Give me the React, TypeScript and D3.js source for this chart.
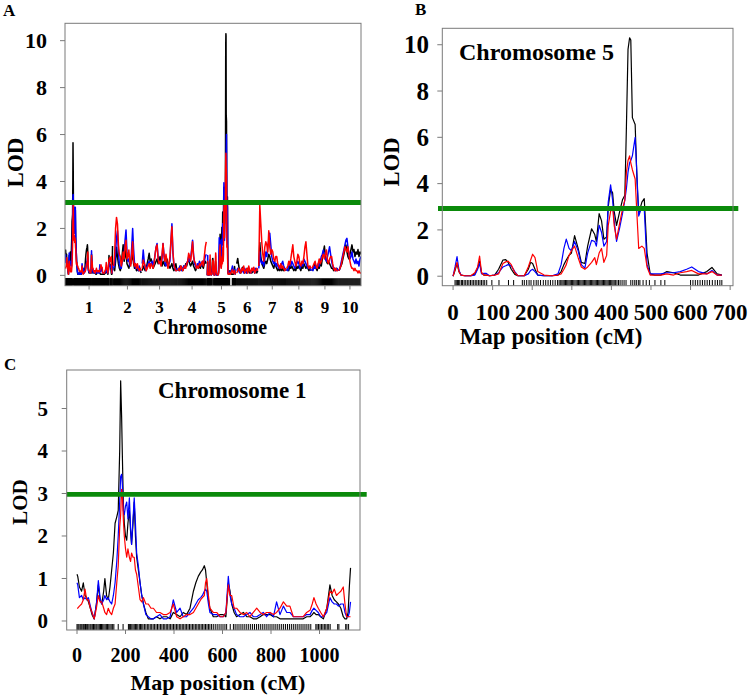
import React from "react";
import * as d3 from "d3";

// ---------------- DATA ----------------
const chromNames = ["1", "2", "3", "4", "5", "6", "7", "8", "9", "10"];
const chromLengths = [1130, 660, 830, 680, 680, 505, 645, 580, 620, 530];
const chromGap = 25;

// Chromosome 5 scan (panel B)
const chr5Pos = [0, 5, 10, 15, 20, 30, 45, 55, 62, 67, 72, 78, 84, 92, 105, 115, 126, 133, 139, 147, 156, 164, 180, 190, 196, 201, 207, 214, 230, 250, 265, 273, 280, 286, 293, 299, 307, 316, 324, 333, 340, 350, 358, 362, 369, 375, 381, 388, 392, 398, 403, 407, 413, 421, 428, 434, 438, 442, 446, 449, 453, 460, 465, 469, 477, 483, 490, 498, 510, 525, 540, 557, 574, 590, 603, 620, 641, 654, 667, 679];
const chr5Black = [0, 0.25, 0.55, 0.2, 0.05, 0.02, 0.02, 0.1, 0.35, 0.65, 0.15, 0.05, 0.05, 0.02, 0.05, 0.3, 0.7, 0.72, 0.6, 0.3, 0.08, 0.02, 0.02, 0.3, 0.6, 0.55, 0.3, 0.05, 0.02, 0.02, 0.05, 0.2, 0.5, 0.7, 0.9, 1.0, 1.75, 1.2, 0.6, 0.55, 1.3, 2.05, 1.8, 1.5, 2.7, 2.4, 1.6, 1.7, 3.0, 3.75, 3.6, 2.8, 2.2, 2.8, 3.3, 3.5, 6.5, 9.8, 10.3, 10.2, 6.85, 6.55, 4.0, 2.7, 3.2, 3.35, 1.0, 0.1, 0.05, 0.05, 0.2, 0.15, 0.05, 0.05, 0.05, 0.05, 0.2, 0.38, 0.1, 0.05];
const chr5Blue = [0, 0.4, 0.85, 0.25, 0.05, 0.02, 0.02, 0.05, 0.3, 0.55, 0.1, 0.12, 0.12, 0.02, 0.05, 0.15, 0.4, 0.45, 0.5, 0.45, 0.2, 0.02, 0.02, 0.1, 0.25, 0.3, 0.2, 0.05, 0.02, 0.02, 0.1, 0.5, 1.2, 1.6, 1.2, 1.1, 1.5, 1.1, 0.5, 0.35, 1.0, 1.55, 1.5, 1.3, 2.2, 1.9, 1.3, 1.5, 3.2, 3.95, 3.3, 2.4, 1.5, 2.1, 2.7, 3.3, 3.8, 4.5, 4.9, 5.0, 5.2, 6.0, 4.2, 2.6, 3.0, 2.9, 0.5, 0.1, 0.1, 0.1, 0.15, 0.15, 0.2, 0.3, 0.4, 0.2, 0.1, 0.25, 0.05, 0.05];
const chr5Red = [0, 0.3, 0.6, 0.2, 0.05, 0.02, 0.02, 0.15, 0.4, 0.87, 0.15, 0.05, 0.05, 0.02, 0.05, 0.1, 0.55, 0.62, 0.65, 0.5, 0.15, 0.02, 0.02, 0.4, 0.7, 0.95, 0.8, 0.2, 0.05, 0.02, 0.05, 0.1, 0.3, 0.5, 0.9, 1.1, 1.3, 0.8, 0.4, 0.3, 0.4, 0.6, 0.8, 0.5, 1.0, 1.2, 0.6, 0.9, 2.2, 2.8, 3.0, 2.2, 1.6, 2.3, 2.9, 3.3, 4.5, 5.0, 5.2, 4.9, 4.6, 4.2, 2.5, 1.2, 1.3, 1.2, 0.4, 0.05, 0.05, 0.05, 0.1, 0.05, 0.15, 0.2, 0.25, 0.1, 0.1, 0.2, 0.05, 0.05];
const chr5Markers = [5, 8, 11, 14, 17, 21, 24, 28, 32, 36, 40, 44, 48, 52, 56, 60, 64, 68, 72, 76, 80, 85, 98, 116, 140, 153, 175, 180, 186, 192, 197, 204, 210, 215, 221, 228, 234, 240, 246, 252, 258, 264, 268, 272, 275, 278, 281, 284, 287, 290, 293, 296, 299, 302, 305, 308, 311, 314, 317, 320, 323, 326, 329, 332, 335, 338, 341, 344, 347, 350, 353, 356, 359, 362, 365, 368, 371, 374, 377, 380, 383, 386, 389, 392, 395, 398, 401, 404, 407, 410, 414, 418, 422, 427, 432, 437, 449, 454, 459, 463, 468, 472, 480, 488, 496, 510, 525, 535, 600, 606, 612, 618, 624, 630, 636, 642, 648, 655, 662, 668, 674, 679];

// Chromosome 1 scan (panel C)
const chr1Pos = [0, 3, 10, 19, 26, 33, 40, 47, 55, 62, 71, 80, 88, 95, 102, 110, 115, 122, 129, 136, 143, 150, 157, 164, 170, 176, 180, 184, 187, 191, 195, 200, 205, 210, 216, 221, 225, 231, 236, 241, 246, 253, 260, 267, 274, 284, 294, 305, 315, 328, 342, 356, 370, 384, 397, 411, 425, 438, 452, 466, 480, 490, 500, 510, 517, 525, 530, 535, 542, 548, 562, 576, 590, 603, 614, 624, 631, 638, 648, 658, 672, 686, 700, 713, 727, 741, 755, 768, 782, 796, 810, 823, 837, 851, 865, 878, 892, 906, 920, 933, 947, 961, 970, 977, 986, 995, 1005, 1016, 1030, 1043, 1052, 1061, 1070, 1078, 1088, 1098, 1105, 1112, 1118, 1123, 1128];
const chr1Black = [1.1, 1.05, 0.8, 0.7, 0.9, 0.6, 0.55, 0.45, 0.3, 0.15, 0.05, 0.4, 0.85, 0.5, 0.4, 0.7, 1.0, 0.6, 0.5, 0.8, 1.2, 1.6, 2.3, 2.45, 2.6, 4.0, 5.65, 4.8, 3.9, 2.8, 2.3, 2.0, 1.9, 2.3, 2.6, 2.1, 1.8, 2.3, 2.8, 2.0, 1.5, 1.2, 0.9, 0.6, 0.4, 0.2, 0.05, 0.05, 0.05, 0.1, 0.05, 0.1, 0.1, 0.05, 0.2, 0.15, 0.1, 0.2, 0.15, 0.3, 0.7, 0.9, 1.05, 1.15, 1.2, 1.3, 1.2, 0.9, 0.5, 0.3, 0.1, 0.1, 0.15, 0.15, 0.1, 0.9, 0.7, 0.4, 0.2, 0.1, 0.15, 0.2, 0.1, 0.1, 0.05, 0.05, 0.1, 0.15, 0.15, 0.15, 0.1, 0.1, 0.05, 0.05, 0.05, 0.05, 0.05, 0.05, 0.05, 0.05, 0.1, 0.1, 0.15, 0.2, 0.15, 0.15, 0.1, 0.05, 0.3, 0.85, 0.6, 0.5, 0.45, 0.4, 0.3, 0.1, 0.05, 0.05, 0.2, 0.8, 1.25];
const chr1Blue = [0.9, 0.85, 0.55, 0.6, 0.5, 0.55, 0.5, 0.55, 0.35, 0.2, 0.05, 0.4, 0.95, 0.55, 0.4, 0.5, 0.6, 0.5, 0.55, 0.45, 0.4, 0.6, 0.9, 1.4, 2.0, 2.8, 3.4, 3.45, 3.2, 2.6, 2.5, 2.7, 2.8, 2.4, 2.9, 2.2, 1.8, 2.4, 2.9, 2.3, 1.6, 1.3, 0.9, 0.6, 0.4, 0.15, 0.1, 0.05, 0.05, 0.1, 0.15, 0.05, 0.05, 0.1, 0.5, 0.2, 0.3, 0.1, 0.1, 0.2, 0.3, 0.4, 0.5, 0.55, 0.6, 0.7, 0.75, 0.7, 0.4, 0.2, 0.15, 0.15, 0.1, 0.1, 0.2, 1.05, 0.6, 0.4, 0.3, 0.15, 0.1, 0.1, 0.15, 0.2, 0.1, 0.1, 0.15, 0.2, 0.1, 0.2, 0.1, 0.45, 0.15, 0.35, 0.2, 0.2, 0.1, 0.1, 0.1, 0.1, 0.15, 0.15, 0.25, 0.3, 0.25, 0.2, 0.1, 0.1, 0.2, 0.55, 0.45, 0.4, 0.4, 0.35, 0.4, 0.4, 0.2, 0.1, 0.1, 0.2, 0.45];
const chr1Red = [0.3, 0.3, 0.35, 0.4, 0.5, 0.75, 0.5, 0.5, 0.3, 0.2, 0.05, 0.3, 0.6, 0.45, 0.45, 0.3, 0.2, 0.15, 0.3, 0.2, 0.15, 0.3, 0.4, 0.9, 1.3, 2.2, 2.5, 3.1, 3.0, 2.4, 2.0, 1.7, 1.5, 1.7, 1.5, 1.4, 1.6, 1.5, 1.5, 1.2, 1.1, 0.8, 0.5, 0.45, 0.55, 0.4, 0.4, 0.3, 0.3, 0.2, 0.2, 0.15, 0.15, 0.2, 0.4, 0.1, 0.05, 0.1, 0.15, 0.15, 0.2, 0.3, 0.4, 0.5, 0.55, 0.6, 0.9, 1.0, 0.6, 0.3, 0.2, 0.2, 0.1, 0.1, 0.2, 0.85, 0.6, 0.6, 0.3, 0.3, 0.2, 0.15, 0.2, 0.1, 0.2, 0.3, 0.2, 0.15, 0.2, 0.2, 0.15, 0.2, 0.3, 0.45, 0.35, 0.35, 0.1, 0.1, 0.1, 0.1, 0.2, 0.25, 0.4, 0.55, 0.4, 0.3, 0.2, 0.1, 0.3, 0.7, 0.65, 0.75, 0.6, 0.65, 0.7, 0.8, 0.4, 0.1, 0.1, 0.1, 0.1];
const chr1Markers = [0, 4, 8, 13, 17, 21, 26, 30, 35, 40, 44, 49, 54, 58, 63, 68, 73, 78, 82, 87, 92, 97, 101, 106, 111, 116, 121, 126, 131, 136, 141, 147, 152, 170, 190, 212, 216, 221, 226, 231, 236, 241, 246, 251, 257, 262, 267, 272, 278, 284, 290, 296, 302, 308, 314, 320, 326, 332, 338, 344, 350, 356, 362, 368, 374, 380, 386, 392, 398, 404, 410, 416, 422, 428, 434, 440, 446, 452, 458, 464, 470, 476, 482, 488, 494, 500, 506, 512, 518, 524, 530, 536, 542, 548, 555, 562, 570, 578, 586, 594, 602, 610, 617, 632, 645, 652, 660, 668, 676, 684, 692, 700, 708, 716, 724, 732, 740, 748, 756, 764, 772, 780, 788, 796, 804, 812, 820, 828, 836, 844, 852, 860, 868, 876, 884, 892, 900, 908, 916, 924, 932, 940, 948, 956, 964, 985, 990, 996, 1002, 1008, 1014, 1020, 1026, 1032, 1038, 1044, 1075, 1080, 1108, 1113, 1120];

// Genome-wide scan on the other chromosomes (panel A), evenly spaced scan grid
const scanChroms = [2, 3, 4, 6, 7, 8, 9, 10];
const scanBlack = [
  [0.3, 0.2, 0.6, 1.2, 0.8, 0.5, 0.3, 0.2, 0.4, 0.9, 1.3, 0.6, 0.8, 1.1, 0.5, 0.4, 0.3, 0.5, 0.5, 0.7, 0.9, 0.5, 0.3, 0.4, 0.2, 0.3, 0.2, 0.3, 0.2, 0.1],
  [0.2, 0.4, 0.3, 0.2, 0.3, 0.5, 0.7, 0.94, 0.6, 0.7, 0.5, 0.3, 0.4, 0.5, 0.6, 0.7, 0.5, 0.6, 0.8, 0.5, 0.4, 0.6, 0.5, 0.4, 0.5, 0.7, 0.5, 0.4, 0.3, 0.4, 0.5, 0.3, 0.2, 0.3, 0.5, 0.2],
  [0.2, 0.3, 0.2, 0.4, 0.3, 0.2, 0.4, 0.3, 0.5, 0.4, 0.6, 0.7, 0.5, 0.4, 0.5, 0.6, 0.4, 0.3, 0.2, 0.3, 0.4, 0.3, 0.4, 0.3, 0.5, 0.4, 0.3, 0.5, 0.6, 0.5],
  [0.5, 0.72, 0.4, 0.2, 0.1, 0.2, 0.35, 0.15, 0.1, 0.2, 0.1, 0.3, 0.15, 0.1, 0.2, 0.1, 0.15, 0.3, 0.1, 0.2, 0.1, 0.2],
  [0.4, 1.4, 0.8, 0.5, 0.4, 0.3, 0.5, 0.6, 0.5, 0.7, 0.9, 0.8, 0.6, 0.5, 0.4, 0.3, 0.5, 0.4, 0.3, 0.2, 0.3, 0.2, 0.3, 0.2, 0.3, 0.2, 0.3, 0.2],
  [0.2, 0.3, 0.2, 0.4, 0.3, 0.4, 0.3, 0.2, 0.3, 0.2, 0.4, 0.3, 0.4, 0.3, 0.2, 0.4, 0.3, 0.5, 0.4, 0.3, 0.4, 0.3, 0.2, 0.3, 0.2],
  [0.2, 0.3, 0.3, 0.5, 0.3, 0.2, 0.4, 0.3, 0.5, 0.4, 0.7, 1.0, 1.25, 0.8, 0.6, 0.5, 0.6, 0.5, 0.4, 0.3, 0.3, 0.2, 0.3, 0.2, 0.3, 0.2],
  [0.2, 0.3, 0.4, 0.5, 0.7, 0.9, 1.1, 1.3, 1.0, 0.8, 0.7, 0.9, 1.1, 1.3, 1.0, 1.1, 0.8, 1.0, 0.9, 1.1, 0.8, 1.0, 0.9],
];
const scanBlue = [
  [0.3, 0.5, 1.0, 1.6, 1.9, 1.0, 0.5, 0.3, 0.3, 0.6, 0.8, 0.9, 1.5, 1.93, 1.0, 0.6, 0.7, 0.4, 0.5, 1.2, 2.0, 1.1, 0.5, 0.3, 0.4, 0.3, 0.2, 0.4, 0.2, 0.2],
  [0.5, 1.08, 0.6, 0.3, 0.2, 0.4, 0.5, 0.6, 0.4, 0.5, 0.6, 0.4, 0.6, 0.9, 1.2, 1.36, 0.8, 0.5, 0.6, 0.5, 0.7, 1.36, 0.9, 0.5, 0.4, 0.5, 0.4, 0.5, 0.6, 1.4, 2.2, 1.0, 0.4, 0.3, 0.2, 0.3],
  [0.3, 0.2, 0.4, 0.3, 0.2, 0.3, 0.4, 0.3, 0.4, 0.5, 0.6, 0.8, 0.6, 0.7, 1.1, 1.5, 0.9, 0.5, 0.4, 0.3, 0.5, 0.4, 0.6, 0.5, 0.4, 0.6, 0.5, 0.6, 0.8, 0.9],
  [0.2, 0.3, 0.2, 0.1, 0.2, 0.3, 0.2, 0.1, 0.3, 0.2, 0.1, 0.2, 0.3, 0.2, 0.1, 0.2, 0.3, 0.2, 0.1, 0.3, 0.2, 0.3],
  [0.3, 1.0, 0.6, 0.5, 0.6, 0.4, 0.7, 1.0, 0.8, 1.2, 1.5, 1.8, 1.3, 0.8, 0.6, 0.5, 0.6, 0.4, 0.5, 0.4, 0.3, 0.4, 0.3, 0.5, 0.6, 0.4, 0.3, 0.2],
  [0.3, 0.2, 0.4, 0.5, 0.4, 0.6, 0.5, 0.4, 0.3, 0.4, 0.5, 0.6, 0.5, 0.3, 0.4, 0.5, 0.4, 0.7, 0.6, 0.5, 0.4, 0.3, 0.4, 0.3, 0.2],
  [0.3, 0.2, 0.4, 0.3, 0.4, 0.3, 0.5, 0.4, 0.6, 0.8, 0.9, 1.08, 0.8, 0.7, 0.6, 0.8, 1.0, 1.22, 0.9, 0.6, 0.4, 0.3, 0.3, 0.2, 0.3, 0.2],
  [0.2, 0.3, 0.5, 0.7, 0.9, 1.1, 1.3, 1.5, 1.58, 1.2, 0.9, 0.7, 0.8, 1.0, 0.7, 0.6, 0.5, 0.7, 0.5, 0.6, 0.4, 0.7, 0.8],
];
const scanRed = [
  [0.4, 0.9, 2.0, 2.47, 2.2, 1.3, 0.9, 0.8, 0.4, 0.6, 1.0, 0.7, 1.2, 1.5, 0.7, 0.8, 1.08, 0.6, 0.4, 0.9, 1.43, 0.6, 0.4, 0.5, 0.3, 0.5, 0.3, 0.2, 0.3, 0.2],
  [0.3, 0.65, 0.5, 0.4, 0.2, 0.3, 0.4, 0.5, 0.3, 0.5, 0.4, 0.3, 0.5, 0.9, 1.2, 1.3, 0.7, 0.5, 0.6, 0.4, 0.9, 1.36, 0.8, 0.6, 0.9, 0.6, 0.3, 0.5, 0.8, 1.5, 2.07, 1.0, 0.5, 0.3, 0.2, 0.2],
  [0.2, 0.3, 0.2, 0.4, 0.3, 0.2, 0.3, 0.4, 0.3, 0.5, 0.6, 0.94, 0.8, 0.6, 1.0, 1.43, 0.8, 0.6, 0.5, 0.3, 0.4, 0.3, 0.5, 0.4, 0.5, 0.6, 0.4, 0.8, 1.2, 1.43],
  [0.1, 0.2, 0.3, 0.2, 0.1, 0.3, 0.2, 0.4, 0.1, 0.2, 0.3, 0.1, 0.4, 0.2, 0.1, 0.3, 0.2, 0.35, 0.1, 0.2, 0.3, 0.2],
  [0.4, 3.0, 2.2, 1.4, 0.9, 0.6, 1.2, 1.43, 1.3, 1.0, 1.9, 1.2, 0.9, 1.1, 1.0, 0.7, 0.6, 0.8, 0.8, 0.5, 0.4, 0.3, 0.5, 0.3, 0.4, 0.3, 0.2, 0.3],
  [0.3, 0.4, 0.6, 0.45, 0.7, 1.0, 1.3, 0.8, 0.6, 0.4, 0.6, 0.9, 0.8, 0.5, 0.4, 0.6, 0.5, 0.8, 1.2, 1.43, 0.9, 0.4, 0.3, 0.4, 0.3],
  [0.3, 0.4, 0.5, 0.6, 0.4, 0.3, 0.5, 0.7, 0.5, 0.6, 0.8, 0.9, 0.7, 0.9, 1.08, 0.6, 0.5, 0.7, 0.8, 0.8, 0.5, 0.3, 0.2, 0.3, 0.2, 0.2],
  [0.2, 0.3, 0.4, 0.6, 0.8, 1.0, 1.22, 1.1, 1.0, 1.22, 0.9, 0.6, 0.4, 0.3, 0.3, 0.2, 0.3, 0.2, 0.2, 0.1, 0.2, 0.1, 0.1],
];

const thresholdA = 3.1;
const thresholdB = 2.93;
const thresholdC = 2.98;
const yTicksA = [0, 2, 4, 6, 8, 10];
const yTicksB = [0, 2, 4, 6, 8, 10];
const xTicksB = [0, 100, 200, 300, 400, 500, 600, 700];
const yTicksC = [0, 1, 2, 3, 4, 5];
const xTicksC = [0, 200, 400, 600, 800, 1000];
const seriesColors = ["#000000", "#0000ff", "#ff0000"];

// ---------------- DRAWING ----------------
const FONT = "'Liberation Serif', 'Times New Roman', Times, serif";
const FRAME = "#7a7a7a";
const GREEN = "#0a8a0a";

type Pt = [number, number];

function zip(pos: number[], vals: number[]): Pt[] {
  return pos.map((p, i) => [p, vals[i]] as Pt);
}

export default function App() {
  // ---- Panel A ----
  const starts: number[] = [];
  let acc = 0;
  chromLengths.forEach((L) => {
    starts.push(acc);
    acc += L + chromGap;
  });
  const total = acc - chromGap;
  const xA = d3.scaleLinear().domain([0, total]).range([65.5, 361]);
  const yA = d3.scaleLinear().domain([-0.44, 10.74]).range([285.7, 23.3]);

  const seriesA: { color: string; chrom: number; pts: Pt[] }[][] = [[], [], []];
  const rugA: { x: number; w: number }[] = [];
  chromLengths.forEach((L, c) => {
    const name = c + 1;
    let pos: number[];
    let vals: number[][];
    if (name === 1) {
      pos = chr1Pos;
      vals = [chr1Black, chr1Blue, chr1Red];
      chr1Markers.forEach((m) => rugA.push({ x: starts[c] + m, w: 1.2 }));
    } else if (name === 5) {
      pos = chr5Pos;
      vals = [chr5Black, chr5Blue, chr5Red];
      chr5Markers.forEach((m) => rugA.push({ x: starts[c] + m, w: 1.2 }));
    } else {
      const k = scanChroms.indexOf(name);
      vals = [scanBlack[k], scanBlue[k], scanRed[k]];
      const n = vals[0].length;
      pos = vals[0].map((_, i) => (i * L) / (n - 1));
      pos.forEach((p) => rugA.push({ x: starts[c] + p, w: 1.3 }));
    }
    vals.forEach((v, s) => {
      seriesA[s].push({ color: seriesColors[s], chrom: c, pts: zip(pos, v) });
    });
  });
  const lineA = (c: number) =>
    d3
      .line<Pt>()
      .x((d) => xA(starts[c] + d[0]))
      .y((d) => yA(d[1]));

  // ---- Panel B ----
  const xB = d3.scaleLinear().domain([-27.2, 707.2]).range([442.3, 733]);
  const yB = d3.scaleLinear().domain([-0.41, 10.71]).range([285.7, 28.3]);
  const lineB = d3
    .line<Pt>()
    .x((d) => xB(d[0]))
    .y((d) => yB(d[1]));
  const seriesB = [chr5Black, chr5Blue, chr5Red].map((v) => zip(chr5Pos, v));

  // ---- Panel C ----
  const xC = d3.scaleLinear().domain([-42.5, 1167]).range([66.7, 360]);
  const yC = d3.scaleLinear().domain([-0.212, 5.906]).range([630, 370]);
  const lineC = d3
    .line<Pt>()
    .x((d) => xC(d[0]))
    .y((d) => yC(d[1]));
  const seriesC = [chr1Black, chr1Blue, chr1Red].map((v) => zip(chr1Pos, v));

  const bold = { fontWeight: 700 as const, fill: "#000", style: { fontFamily: FONT } };

  return (
    <svg
      width={748}
      height={698}
      viewBox="0 0 748 698"
      style={{ position: "absolute", left: 0, top: 0, background: "#fff" }}
    >
      <rect x={0} y={0} width={748} height={698} fill="#fff" />
      <defs>
        <clipPath id="clipA">
          <rect x={65} y={23.3} width={296} height={262.4} />
        </clipPath>
        <clipPath id="clipB">
          <rect x={442.3} y={28.3} width={290.7} height={257.4} />
        </clipPath>
        <clipPath id="clipC">
          <rect x={66.7} y={370} width={293.3} height={260} />
        </clipPath>
      </defs>

      {/* ===== Panel A ===== */}
      <text x={3} y={16} fontSize={17} {...bold}>A</text>
      <g clipPath="url(#clipA)">
        {seriesA.map((arr, s) =>
          arr.map((sr, i) => (
            <path
              key={`a${s}-${i}`}
              d={lineA(sr.chrom)(sr.pts) || ""}
              fill="none"
              stroke={sr.color}
              strokeWidth={1.5}
              strokeLinejoin="round"
            />
          ))
        )}
        {rugA.map((m, i) => (
          <line key={`ra${i}`} x1={xA(m.x)} x2={xA(m.x)} y1={278.3} y2={285.7} stroke="#000" strokeWidth={m.w} />
        ))}
      </g>
      <line x1={65} x2={361} y1={yA(thresholdA)} y2={yA(thresholdA)} stroke={GREEN} strokeWidth={5} />
      <rect x={65} y={23.3} width={296} height={262.4} fill="none" stroke={FRAME} strokeWidth={1} />
      {yTicksA.map((t) => (
        <g key={`yta${t}`}>
          <line x1={60} x2={65} y1={yA(t)} y2={yA(t)} stroke={FRAME} />
          <text x={47} y={yA(t)} dy="0.35em" textAnchor="end" fontSize={22} {...bold}>{t}</text>
        </g>
      ))}
      {chromNames.map((nm, c) => {
        const mx = xA(starts[c] + chromLengths[c] / 2);
        return (
          <g key={`xta${nm}`}>
            <line x1={mx} x2={mx} y1={285.7} y2={289.5} stroke={FRAME} />
            <text x={mx} y={313.3} textAnchor="middle" fontSize={17} {...bold}>{nm}</text>
          </g>
        );
      })}
      <text x={210} y={334} textAnchor="middle" fontSize={20} {...bold}>Chromosome</text>
      <text transform="translate(23,162.5) rotate(-90)" textAnchor="middle" fontSize={23} {...bold}>LOD</text>

      {/* ===== Panel B ===== */}
      <text x={415} y={15} fontSize={17} {...bold}>B</text>
      <g clipPath="url(#clipB)">
        {seriesB.map((pts, s) => (
          <path key={`b${s}`} d={lineB(pts) || ""} fill="none" stroke={seriesColors[s]} strokeWidth={1.2} strokeLinejoin="round" />
        ))}
        {chr5Markers.map((m, i) => (
          <line key={`rb${i}`} x1={xB(m)} x2={xB(m)} y1={280} y2={285.7} stroke="#000" strokeWidth={1} />
        ))}
      </g>
      <line x1={438} x2={738.3} y1={yB(thresholdB)} y2={yB(thresholdB)} stroke={GREEN} strokeWidth={5} />
      <rect x={442.3} y={28.3} width={290.7} height={257.4} fill="none" stroke={FRAME} strokeWidth={1} />
      {yTicksB.map((t) => (
        <g key={`ytb${t}`}>
          <line x1={437.3} x2={442.3} y1={yB(t)} y2={yB(t)} stroke={FRAME} />
          <text x={429} y={yB(t)} dy="0.35em" textAnchor="end" fontSize={25} {...bold}>{t}</text>
        </g>
      ))}
      {xTicksB.map((t) => (
        <g key={`xtb${t}`}>
          <line x1={xB(t)} x2={xB(t)} y1={285.7} y2={290} stroke={FRAME} />
          <text x={xB(t)} y={319.5} textAnchor="middle" fontSize={23} {...bold}>{t}</text>
        </g>
      ))}
      <text x={551} y={344} textAnchor="middle" fontSize={23} {...bold}>Map position (cM)</text>
      <text transform="translate(399,162) rotate(-90)" textAnchor="middle" fontSize={22.5} {...bold}>LOD</text>
      <text x={459} y={60} fontSize={24} {...bold}>Chromosome 5</text>

      {/* ===== Panel C ===== */}
      <text x={4} y={370} fontSize={17} {...bold}>C</text>
      <g clipPath="url(#clipC)">
        {seriesC.map((pts, s) => (
          <path key={`c${s}`} d={lineC(pts) || ""} fill="none" stroke={seriesColors[s]} strokeWidth={1.2} strokeLinejoin="round" />
        ))}
        {chr1Markers.map((m, i) => (
          <line key={`rc${i}`} x1={xC(m)} x2={xC(m)} y1={624} y2={630} stroke="#000" strokeWidth={1} />
        ))}
      </g>
      <line x1={66.7} x2={366.7} y1={yC(thresholdC)} y2={yC(thresholdC)} stroke={GREEN} strokeWidth={4.7} />
      <rect x={66.7} y={370} width={293.3} height={260} fill="none" stroke={FRAME} strokeWidth={1} />
      {yTicksC.map((t) => (
        <g key={`ytc${t}`}>
          <line x1={61.7} x2={66.7} y1={yC(t)} y2={yC(t)} stroke={FRAME} />
          <text x={48} y={yC(t)} dy="0.35em" textAnchor="end" fontSize={21} {...bold}>{t}</text>
        </g>
      ))}
      {xTicksC.map((t) => (
        <g key={`xtc${t}`}>
          <line x1={xC(t)} x2={xC(t)} y1={630} y2={634} stroke={FRAME} />
          <text x={xC(t)} y={662} textAnchor="middle" fontSize={20} {...bold}>{t}</text>
        </g>
      ))}
      <text x={218} y={690} textAnchor="middle" fontSize={22} {...bold}>Map position (cM)</text>
      <text transform="translate(26.5,502) rotate(-90)" textAnchor="middle" fontSize={21} {...bold}>LOD</text>
      <text x={158} y={398} fontSize={23} {...bold}>Chromosome 1</text>
    </svg>
  );
}
